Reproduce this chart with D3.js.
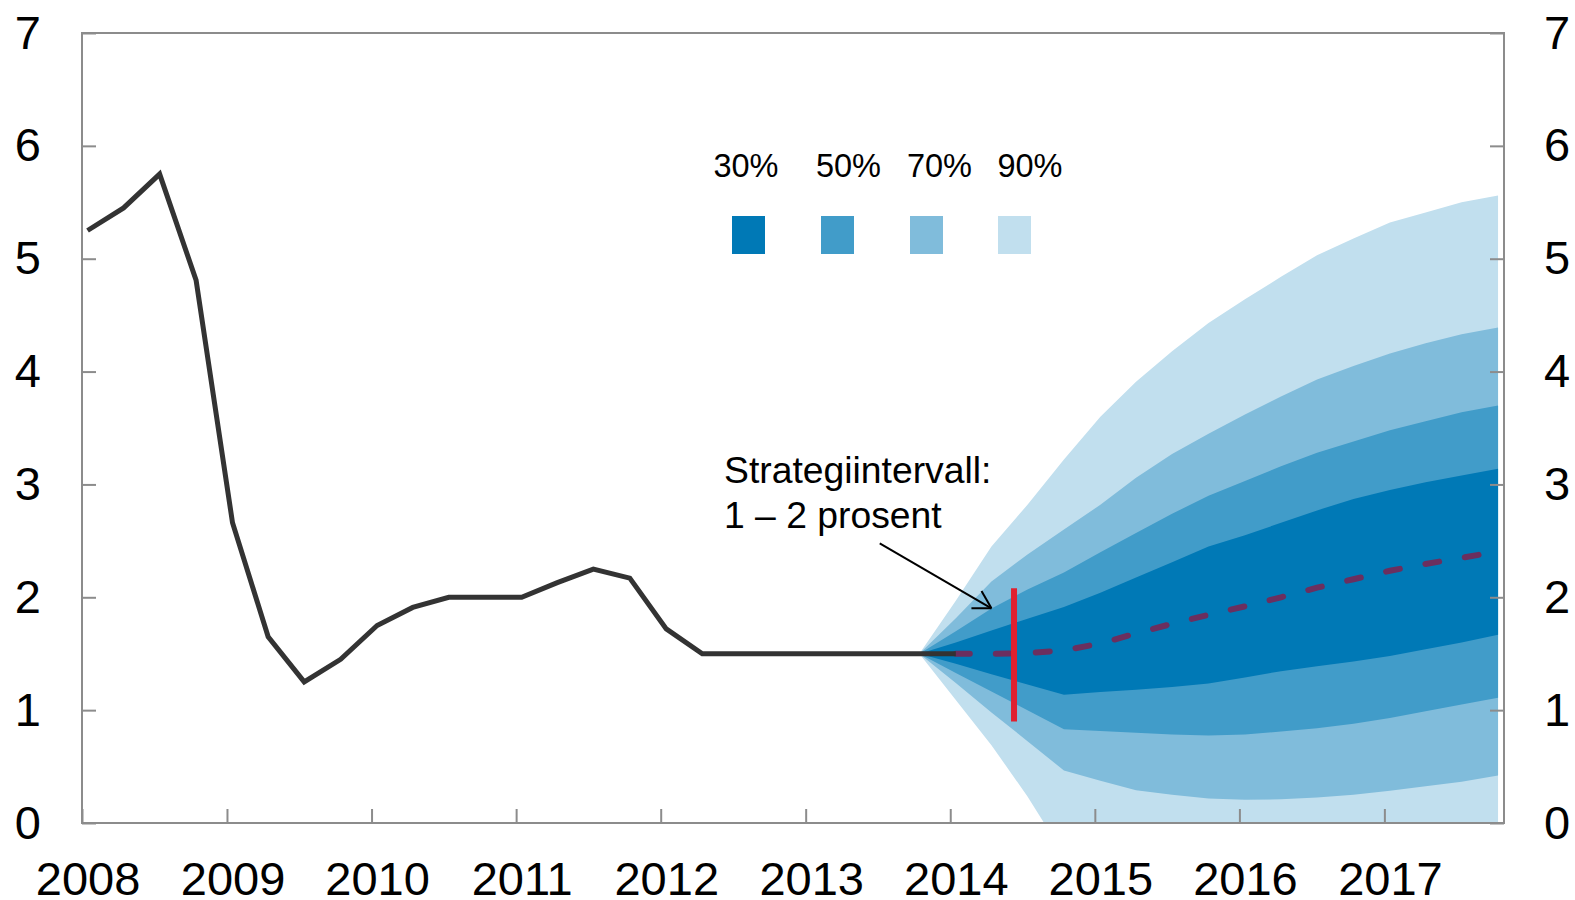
<!DOCTYPE html>
<html>
<head>
<meta charset="utf-8">
<script src="https://cdn.jsdelivr.net/npm/d3@7/dist/d3.min.js"></script>
<style>
  html, body { margin: 0; padding: 0; background: #fff; }
  svg { display: block; font-family: "Liberation Sans", Arial, sans-serif; }
</style>
</head>
<body>
<svg id="chart" width="1575" height="900"></svg>
<script>
// ---------------- DATA ----------------
const histQuarters = ["2008Q1","2008Q2","2008Q3","2008Q4","2009Q1","2009Q2","2009Q3","2009Q4",
  "2010Q1","2010Q2","2010Q3","2010Q4","2011Q1","2011Q2","2011Q3","2011Q4",
  "2012Q1","2012Q2","2012Q3","2012Q4","2013Q1","2013Q2","2013Q3","2013Q4","2014Q1"];
const policyRate = [5.25, 5.45, 5.75, 4.81, 2.66, 1.65, 1.25, 1.45,
  1.75, 1.91, 2.0, 2.0, 2.0, 2.13, 2.25, 2.17,
  1.72, 1.5, 1.5, 1.5, 1.5, 1.5, 1.5, 1.5, 1.5];

const fanQuarters = ["2013Q4","2014Q1","2014Q2","2014Q3","2014Q4","2015Q1","2015Q2","2015Q3","2015Q4",
  "2016Q1","2016Q2","2016Q3","2016Q4","2017Q1","2017Q2","2017Q3","2017Q4"];
const upper90 = [1.5, 1.97, 2.45, 2.82, 3.22, 3.60, 3.91, 4.18, 4.43, 4.64, 4.84, 5.03, 5.18, 5.32, 5.41, 5.50, 5.56];
const upper70 = [1.5, 1.815, 2.14, 2.38, 2.60, 2.82, 3.06, 3.27, 3.45, 3.62, 3.78, 3.93, 4.05, 4.16, 4.25, 4.33, 4.39];
const upper50 = [1.5, 1.70, 1.90, 2.07, 2.22, 2.40, 2.57, 2.74, 2.90, 3.03, 3.16, 3.28, 3.38, 3.48, 3.56, 3.64, 3.70];
const upper30 = [1.5, 1.60, 1.705, 1.81, 1.915, 2.04, 2.175, 2.31, 2.45, 2.55, 2.66, 2.77, 2.87, 2.95, 3.02, 3.08, 3.14];
const lower30 = [1.5, 1.41, 1.317, 1.227, 1.137, 1.16, 1.18, 1.205, 1.235, 1.29, 1.345, 1.39, 1.43, 1.48, 1.54, 1.60, 1.667];
const lower50 = [1.5, 1.33, 1.166, 1.0, 0.83, 0.815, 0.80, 0.785, 0.775, 0.785, 0.81, 0.84, 0.88, 0.93, 0.99, 1.05, 1.11];
const lower70 = [1.5, 1.24, 0.98, 0.725, 0.465, 0.375, 0.29, 0.25, 0.217, 0.205, 0.21, 0.225, 0.25, 0.285, 0.325, 0.365, 0.42];
const lower90 = [1.5, 1.09, 0.69, 0.235, -0.28, -0.5, -0.65, -0.75, -0.8, -0.85, -0.85, -0.85, -0.85, -0.8, -0.8, -0.75, -0.7];

const pathQuarters = ["2014Q1","2014Q2","2014Q3","2014Q4","2015Q1","2015Q2","2015Q3","2015Q4",
  "2016Q1","2016Q2","2016Q3","2016Q4","2017Q1","2017Q2","2017Q3","2017Q4"];
const forecastPath = [1.5, 1.5, 1.505, 1.53, 1.59, 1.68, 1.765, 1.845, 1.92, 2.0, 2.085, 2.16, 2.235, 2.295, 2.35, 2.405];

const bandLabels = ["30%", "50%", "70%", "90%"];
const bandColors = ["#0079B6", "#419CC9", "#80BCDB", "#C1DFEE"];

const yTicks = [0, 1, 2, 3, 4, 5, 6, 7];
const xTickYears = [2008, 2009, 2010, 2011, 2012, 2013, 2014, 2015, 2016, 2017];

const targetInterval = [0.9, 2.08];
const targetDate = new Date(2014, 5, 11);
const annotationLines = ["Strategiintervall:", "1 \u2013 2 prosent"];

// ---------------- SCALES ----------------
const qDate = q => new Date(+q.slice(0, 4), (+q.slice(5) - 1) * 3, 15);

const M = { left: 82, right: 1504, top: 33, bottom: 823 };
const x = d3.scaleTime()
  .domain([new Date(2008, 0, 1), new Date(2017, 9, 30)])
  .range([M.left, M.right]);
const y = d3.scaleLinear().domain([0, 7]).range([M.bottom, M.top]);

const svg = d3.select("#chart");
const FONT = "'Liberation Sans', Arial, sans-serif";

svg.append("defs").append("clipPath").attr("id", "plotClip")
  .append("rect")
  .attr("x", M.left).attr("y", M.top)
  .attr("width", M.right - M.left).attr("height", M.bottom - M.top);

const plot = svg.append("g").attr("clip-path", "url(#plotClip)");

// ---------------- FAN ----------------
const bands = [
  { lo: lower90, hi: upper90, color: bandColors[3] },
  { lo: lower70, hi: upper70, color: bandColors[2] },
  { lo: lower50, hi: upper50, color: bandColors[1] },
  { lo: lower30, hi: upper30, color: bandColors[0] }
];
const area = d3.area()
  .x(d => x(d.date))
  .y0(d => y(d.lo))
  .y1(d => y(d.hi));

bands.forEach(b => {
  const rows = fanQuarters.map((q, i) => ({ date: qDate(q), lo: b.lo[i], hi: b.hi[i] }));
  plot.append("path").datum(rows).attr("d", area).attr("fill", b.color);
});

// ---------------- LINES ----------------
const line = d3.line().x(d => x(d.date)).y(d => y(d.v));

plot.append("path")
  .datum(pathQuarters.map((q, i) => ({ date: qDate(q), v: forecastPath[i] })))
  .attr("d", line)
  .attr("fill", "none")
  .attr("stroke", "#6B2F5F")
  .attr("stroke-width", 6)
  .attr("stroke-linecap", "round")
  .attr("stroke-dasharray", "14 26");

plot.append("path")
  .datum(histQuarters.map((q, i) => ({ date: qDate(q), v: policyRate[i] })))
  .attr("d", line)
  .attr("fill", "none")
  .attr("stroke", "#333333")
  .attr("stroke-width", 5)
  .attr("stroke-linejoin", "miter");

// target interval bar
svg.append("line")
  .attr("x1", x(targetDate)).attr("x2", x(targetDate))
  .attr("y1", y(targetInterval[0])).attr("y2", y(targetInterval[1]))
  .attr("stroke", "#E0202F").attr("stroke-width", 6);

// ---------------- FRAME & AXES ----------------
svg.append("rect")
  .attr("x", M.left).attr("y", M.top)
  .attr("width", M.right - M.left).attr("height", M.bottom - M.top)
  .attr("fill", "none").attr("stroke", "#8C8C8C").attr("stroke-width", 2);

const styleAxis = g => {
  g.select(".domain").remove();
  g.selectAll(".tick line").attr("stroke", "#8C8C8C").attr("stroke-width", 2);
  g.selectAll(".tick text").attr("fill", "#000").style("font-family", FONT).style("font-size", "47px");
};

svg.append("g").attr("transform", `translate(${M.left},0)`)
  .call(d3.axisLeft(y).tickValues(yTicks).tickFormat(d3.format("d")).tickSize(-14).tickPadding(41))
  .call(styleAxis);

svg.append("g").attr("transform", `translate(${M.right},0)`)
  .call(d3.axisRight(y).tickValues(yTicks).tickFormat(d3.format("d")).tickSize(-14).tickPadding(40))
  .call(styleAxis);

const xAxisG = svg.append("g").attr("transform", `translate(0,${M.bottom})`)
  .call(d3.axisBottom(x).tickValues(xTickYears.map(yr => new Date(yr, 0, 1)))
    .tickFormat(d3.timeFormat("%Y")).tickSize(-14).tickPadding(0))
  .call(styleAxis);
xAxisG.selectAll(".tick text")
  .attr("x", d => x(new Date(d.getFullYear(), 0, 15)) - x(d))
  .attr("y", 72)
  .attr("dy", null);

// ---------------- LEGEND ----------------
const legendLabelX = [746, 848.5, 939.5, 1030];
const legendBoxX = [732, 821, 910, 998];
const legend = svg.append("g");
bandLabels.forEach((lab, i) => {
  legend.append("text")
    .attr("x", legendLabelX[i]).attr("y", 177)
    .attr("text-anchor", "middle")
    .style("font-family", FONT).style("font-size", "32.5px")
    .attr("fill", "#000")
    .text(lab);
  legend.append("rect")
    .attr("x", legendBoxX[i]).attr("y", 216)
    .attr("width", 33).attr("height", 38)
    .attr("fill", bandColors[i]);
});

// ---------------- ANNOTATION ----------------
const ann = svg.append("g");
annotationLines.forEach((t, i) => {
  ann.append("text")
    .attr("x", 724).attr("y", 483 + i * 45)
    .style("font-family", FONT).style("font-size", "37.3px")
    .attr("fill", "#000")
    .text(t);
});

const arrowFrom = [new Date(2013, 6, 7), 2.478];
const arrowTo = [new Date(2014, 3, 15), 1.902];
const ax1 = x(arrowFrom[0]), ay1 = y(arrowFrom[1]);
const ax2 = x(arrowTo[0]), ay2 = y(arrowTo[1]);
ann.append("line")
  .attr("x1", ax1).attr("y1", ay1).attr("x2", ax2).attr("y2", ay2)
  .attr("stroke", "#000").attr("stroke-width", 2);
const ang = Math.atan2(ay2 - ay1, ax2 - ax1) + Math.PI;
const headLen = 20;
[-Math.PI / 6, Math.PI / 6].forEach(da => {
  ann.append("line")
    .attr("x1", ax2).attr("y1", ay2)
    .attr("x2", ax2 + headLen * Math.cos(ang + da))
    .attr("y2", ay2 + headLen * Math.sin(ang + da))
    .attr("stroke", "#000").attr("stroke-width", 2);
});
</script>
</body>
</html>
